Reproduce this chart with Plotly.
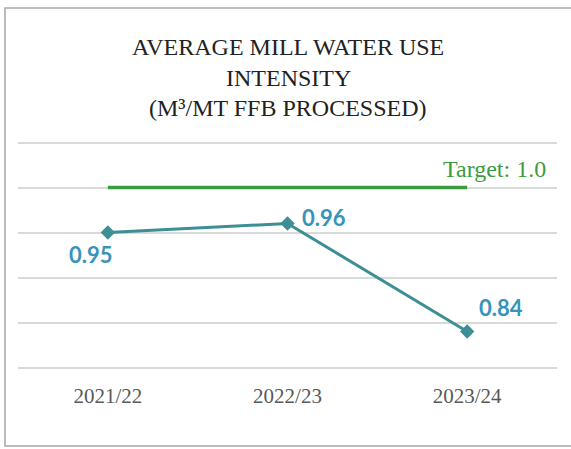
import plotly.graph_objects as go

categories = ["2021/22", "2022/23", "2023/24"]
intensity = [0.95, 0.96, 0.84]
target_value = 1.0
target_series = [target_value, target_value, target_value]
title_lines = ["AVERAGE MILL WATER USE", "INTENSITY", "(M³/MT FFB PROCESSED)"]
y_ticks = [0.80, 0.85, 0.90, 0.95, 1.00, 1.05]

SERIF = "Liberation Serif, Times New Roman, serif"
LINE_COLOR = "#3b8f95"
LABEL_COLOR = "#3793b9"
GREEN = "#3c9b3c"

fig = go.Figure()
fig.add_trace(go.Scatter(
    x=categories, y=target_series, mode="lines",
    line=dict(color=GREEN, width=3.5), hoverinfo="skip", showlegend=False))
fig.add_trace(go.Scatter(
    x=categories, y=intensity, mode="lines+markers",
    line=dict(color=LINE_COLOR, width=3),
    marker=dict(symbol="diamond", size=11, color=LINE_COLOR),
    showlegend=False))

# data labels
label_offsets = [(-17, -22, "center"), (12, 6, "left"), (10, 24, "left")]
for cat, val, (dx, dy, anchor) in zip(categories, intensity, label_offsets):
    fig.add_annotation(x=cat, y=val, text=f"{val:.2f}", showarrow=False,
                       xanchor=anchor, yanchor="middle", xshift=dx, yshift=dy,
                       font=dict(family="Lato, sans-serif", size=22, color=LABEL_COLOR, weight="bold"))

fig.add_annotation(x=categories[-1], y=target_value, text=f"Target: {target_value:.1f}",
                   showarrow=False, xanchor="right", yanchor="bottom", xshift=81, yshift=4,
                   font=dict(family=SERIF, size=24, color=GREEN))

for yp, line in zip([1.3868, 1.2585, 1.1303], title_lines):
    fig.add_annotation(x=0.501, y=yp, xref="paper", yref="paper",
                       text=line, showarrow=False, xanchor="center", yanchor="middle",
                       font=dict(family=SERIF, size=24, color="#222222"))

fig.add_shape(type="rect", xref="paper", yref="paper",
              x0=-0.0241, x1=1.06, y0=-0.3162, y1=1.5556,
              line=dict(color="#a6a6a6", width=1.5), fillcolor="rgba(0,0,0,0)")

fig.update_layout(
    width=571, height=449,
    margin=dict(l=18, r=14, t=138, b=77),
    paper_bgcolor="white", plot_bgcolor="white",
    xaxis=dict(type="category", range=[-0.5, 2.5], showgrid=False, zeroline=False,
               showline=False, ticks="", ticklabelstandoff=9,
               tickfont=dict(family=SERIF, size=21, color="#595959")),
    yaxis=dict(range=[0.795, 1.055], tickvals=y_ticks, showticklabels=False,
               showgrid=True, gridcolor="#d9d9d9", gridwidth=1.5, zeroline=False, showline=False),
)

fig.write_html("out.html", config={"displayModeBar": False},
               post_script="document.body.style.margin='0';document.body.style.overflow='hidden';")
